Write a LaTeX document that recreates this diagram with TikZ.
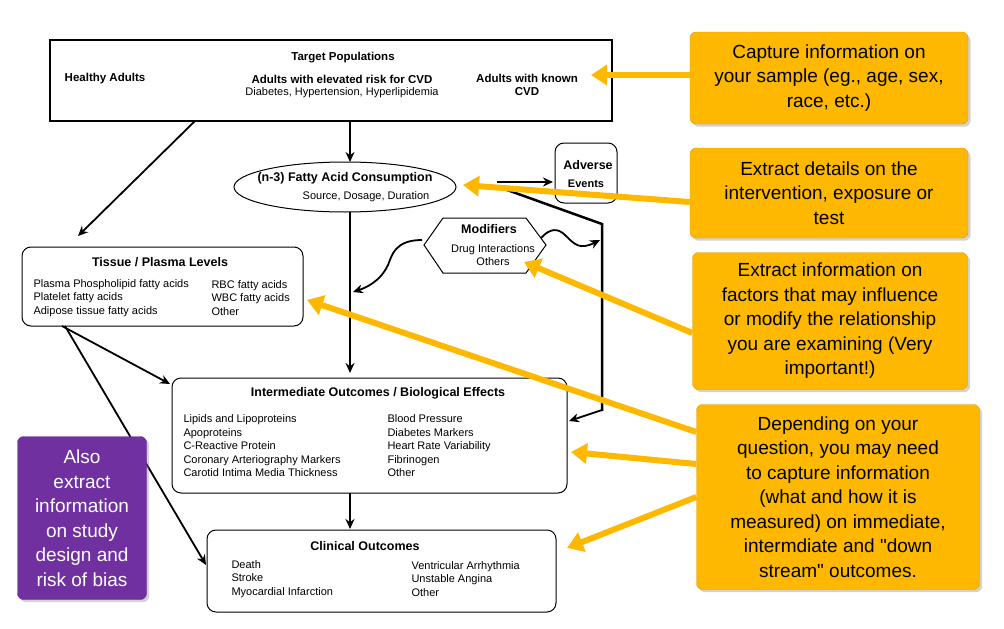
\documentclass[tikz,border=0pt]{standalone}
\usepackage{fontspec}
\setmainfont{Liberation Sans}[Ligatures=TeXOff]
\usetikzlibrary{arrows.meta,shapes.geometric,shadows,decorations.pathmorphing}
\definecolor{callout}{HTML}{FFB800}
\definecolor{calloutedge}{HTML}{E09A00}
\definecolor{bias}{HTML}{7030A0}
\tikzset{
  box/.style={draw, line width=1pt, rounded corners=9pt, inner sep=0pt},
  small/.style={font=\fontsize{11}{13.5}\selectfont, align=left, anchor=west},
  head/.style={font=\fontsize{11.5}{13.5}\selectfont\bfseries},
  flow/.style={line width=1.8pt, -{Stealth[length=10pt,width=9pt]}},
  note/.style={fill=callout, draw=calloutedge, rounded corners=6pt, drop shadow={opacity=0.35},
    font=\fontsize{19}{24.5}\selectfont, align=center, inner sep=4pt},
  hint/.style={line width=6pt, draw=callout, -{Triangle[length=16pt,width=20pt]}}
}
\begin{document}
\begin{tikzpicture}[x=1pt,y=-1pt]
  \useasboundingbox (0,0) rectangle (1004,629);

  % target populations
  \draw[line width=1.5pt] (50,40) rectangle (612,121);
  \coordinate (tgtB) at (350,121);
  \coordinate (tgtL) at (195,121);
  \node[head] at (343,58) {Target Populations};
  \node[head] at (105,79) {Healthy Adults};
  \node[head] at (342,79) {Adults with elevated risk for CVD};
  \node[font=\fontsize{11}{13}\selectfont] at (342,93) {Diabetes, Hypertension, Hyperlipidemia};
  \node[head, align=center] at (527,85) {Adults with known\\CVD};

  % consumption
  \node[draw, line width=1pt, ellipse, minimum width=222pt, minimum height=50pt] (fa) at (345,187) {};
  \node[font=\fontsize{12.5}{14}\selectfont\bfseries] at (345,178) {(n-3) Fatty Acid Consumption};
  \node[font=\fontsize{11}{13}\selectfont] at (366,197) {Source, Dosage, Duration};

  % adverse events
  \draw[box] (555,143) rectangle (617,203);
  \coordinate (adv) at (553,182);
  \node[font=\fontsize{12.5}{14}\selectfont\bfseries] at (588,165) {Adverse};
  \node[font=\fontsize{11}{13}\selectfont\bfseries] at (586,184) {Events};

  % tissue levels
  \draw[box] (22,247) rectangle (303,326);
  \node[font=\fontsize{12.5}{14}\selectfont\bfseries] at (160,262) {Tissue / Plasma Levels};
  \node[small] at (30,298) {Plasma Phospholipid fatty acids\\Platelet fatty acids\\Adipose tissue fatty acids};
  \node[small] at (208,298) {RBC fatty acids\\WBC fatty acids\\Other};

  % modifiers
  \draw[line width=1pt] (424,245) -- (443,218) -- (526,218) -- (546,245) -- (526,273) -- (443,273) -- cycle;
  \node[font=\fontsize{12.5}{14}\selectfont\bfseries] at (489,229) {Modifiers};
  \node[font=\fontsize{11}{12.5}\selectfont, align=center] at (493,255) {Drug Interactions\\Others};

  % intermediate outcomes
  \draw[box] (172,378) rectangle (567,493);
  \node[font=\fontsize{12.5}{14}\selectfont\bfseries] at (378,393) {Intermediate Outcomes / Biological Effects};
  \node[small] at (180,446) {Lipids and Lipoproteins\\Apoproteins\\C-Reactive Protein\\Coronary Arteriography Markers\\Carotid Intima Media Thickness};
  \node[small] at (384,446) {Blood Pressure\\Diabetes Markers\\Heart Rate Variability\\Fibrinogen\\Other};

  % clinical outcomes
  \draw[box] (207,530) rectangle (556,612);
  \node[font=\fontsize{12.5}{14}\selectfont\bfseries] at (365,546) {Clinical Outcomes};
  \node[small] at (228,579) {Death\\Stroke\\Myocardial Infarction};
  \node[small] at (408,579) {Ventricular Arrhythmia\\Unstable Angina\\Other};

  % flow arrows
  \draw[flow] (tgtB) -- (350,162);
  \draw[flow] (tgtL) -- (78,236);
  \draw[flow] (350,212) -- (350,373);
  \draw[flow] (350,493) -- (350,529);
  \draw[flow] (62,326) -- (170,384);
  \draw[flow] (65,326) -- (206,565);
  \draw[flow] (497,182) -- (adv);
  \draw[line width=2.5pt] (496,186) -- (602,224) -- (602,411);
  \draw[flow] (602,410) -- (569,421);
  \draw[flow] (422,240) .. controls (395,240) and (392,255) .. (388,265) .. controls (380,282) and (365,288) .. (353,292);
  \draw[flow] (541,238) .. controls (550,228) and (558,228) .. (565,235) .. controls (575,245) and (580,250) .. (600,240);

  % callouts
  \node[note, minimum width=278pt, minimum height=92pt] (n1) at (829,78) {Capture information on\\your sample (eg., age, sex,\\race, etc.)};
  \node[note, minimum width=278pt, minimum height=90pt] (n2) at (829,193) {Extract details on the\\intervention, exposure or\\test};
  \node[note, minimum width=275pt, minimum height=137pt] (n3) at (830,321) {Extract information on\\factors that may influence\\or modify the relationship\\you are examining (Very\\important!)};
  \node[note, minimum width=283pt, minimum height=185pt] (n4) at (838,497) {Depending on your\\question, you may need\\to capture information\\(what and how it is\\measured) on immediate,\\intermdiate and "down\\stream" outcomes.};
  \node[note, fill=bias, draw=bias, text=white, minimum width=129pt, minimum height=163pt] (n5) at (82,518) {Also\\extract\\information\\on study\\design and\\risk of bias};

  \draw[hint] (n1.west |- 0,75) -- (591,75);
  \draw[hint] (n2.west |- 0,202) -- (463,185);
  \draw[hint] (n3.west |- 0,333) -- (524,262);
  \draw[hint] (n4.west |- 0,432) -- (307,300);
  \draw[hint] (n4.west |- 0,464) -- (571,452);
  \draw[hint] (n4.west |- 0,497) -- (567,548);
\end{tikzpicture}
\end{document}
